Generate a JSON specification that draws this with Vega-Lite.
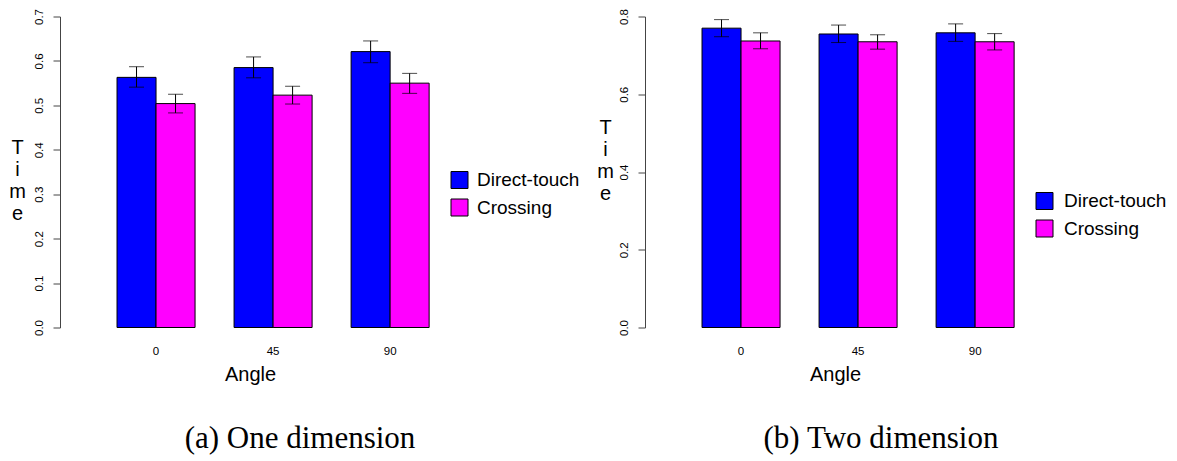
{
  "$schema": "https://vega.github.io/schema/vega-lite/v6.json",
  "background": "white",
  "padding": {"left": 8, "top": 8.5, "right": 0, "bottom": 0},
  "config": {
    "font": "Liberation Sans",
    "view": {"stroke": null},
    "axis": {"grid": false, "labelColor": "black", "titleColor": "black", "domainColor": "#444", "tickColor": "#444"},
    "axisY": {"titleAngle": 0, "titleFontSize": 20, "titleFontWeight": "normal", "titleLineHeight": 22, "titleAlign": "center", "titleBaseline": "middle", "format": ".1f", "labelAngle": -90, "labelFontSize": 11.5, "labelPadding": 9, "tickSize": 7}
  },
  "datasets": {
    "d": [
      {"dim": "one", "angle": "0", "method": "Direct-touch", "mean": 0.563, "lo": 0.541, "hi": 0.587},
      {"dim": "one", "angle": "0", "method": "Crossing", "mean": 0.504, "lo": 0.483, "hi": 0.525},
      {"dim": "one", "angle": "45", "method": "Direct-touch", "mean": 0.585, "lo": 0.562, "hi": 0.609},
      {"dim": "one", "angle": "45", "method": "Crossing", "mean": 0.523, "lo": 0.503, "hi": 0.543},
      {"dim": "one", "angle": "90", "method": "Direct-touch", "mean": 0.621, "lo": 0.596, "hi": 0.645},
      {"dim": "one", "angle": "90", "method": "Crossing", "mean": 0.55, "lo": 0.527, "hi": 0.572},
      {"dim": "two", "angle": "0", "method": "Direct-touch", "mean": 0.77, "lo": 0.748, "hi": 0.792},
      {"dim": "two", "angle": "0", "method": "Crossing", "mean": 0.737, "lo": 0.717, "hi": 0.758},
      {"dim": "two", "angle": "45", "method": "Direct-touch", "mean": 0.755, "lo": 0.733, "hi": 0.778},
      {"dim": "two", "angle": "45", "method": "Crossing", "mean": 0.735, "lo": 0.716, "hi": 0.753},
      {"dim": "two", "angle": "90", "method": "Direct-touch", "mean": 0.758, "lo": 0.736, "hi": 0.781},
      {"dim": "two", "angle": "90", "method": "Crossing", "mean": 0.735, "lo": 0.714, "hi": 0.756}
    ]
  },
  "bounds": "flush",
  "spacing": 205,
  "resolve": {"scale": {"y": "independent"}, "legend": {"color": "independent"}},
  "hconcat": [
    {
      "width": 380,
      "height": 311,
      "title": {"text": "(a) One dimension", "orient": "bottom", "offset": 40, "dx": 50, "font": "Liberation Serif", "fontSize": 31, "fontWeight": "normal", "anchor": "middle", "color": "black"},
      "data": {"name": "d"},
      "transform": [{"filter": "datum.dim === 'one'"}],
      "encoding": {
        "x": {"field": "angle", "type": "nominal", "sort": ["0", "45", "90"],
          "scale": {"paddingInner": 0.3333, "paddingOuter": 0.29, "align": 0.84},
          "axis": {"title": "Angle", "titleFontSize": 20, "titleFontWeight": "normal", "titlePadding": 7, "labelAngle": 0, "labelFontSize": 11.5, "labelPadding": 18, "domain": false, "ticks": false}},
        "xOffset": {"field": "method", "type": "nominal", "sort": ["Direct-touch", "Crossing"], "scale": {"paddingInner": 0, "paddingOuter": 0}}
      },
      "layer": [
        {
          "mark": {"type": "bar", "stroke": "black", "strokeWidth": 1},
          "encoding": {
            "y": {"field": "mean", "type": "quantitative", "scale": {"domain": [0, 0.7]},
              "axis": {"title": ["T", "i", "m", "e"], "titleX": -43, "titleY": 131, "values": [0, 0.1, 0.2, 0.3, 0.4, 0.5, 0.6, 0.7]}},
            "color": {"field": "method", "type": "nominal", "sort": ["Direct-touch", "Crossing"],
              "scale": {"domain": ["Direct-touch", "Crossing"], "range": ["#0000FF", "#FF00FF"]},
              "legend": {"orient": "none", "legendX": 390, "legendY": 154, "title": null, "symbolType": "square", "symbolSize": 289, "labelFontSize": 19, "labelOffset": 8, "rowPadding": 6.5, "symbolStrokeColor": "black", "symbolStrokeWidth": 1, "padding": 0, "labelColor": "black"}}
          }
        },
        {
          "mark": {"type": "rule", "color": "black", "strokeWidth": 1},
          "encoding": {"y": {"field": "lo", "type": "quantitative",
              "axis": {"title": ["T", "i", "m", "e"], "titleX": -43, "titleY": 131, "values": [0, 0.1, 0.2, 0.3, 0.4, 0.5, 0.6, 0.7]}}, "y2": {"field": "hi"}}
        },
        {
          "mark": {"type": "tick", "color": "black", "size": 15, "thickness": 1},
          "encoding": {"y": {"field": "lo", "type": "quantitative",
              "axis": {"title": ["T", "i", "m", "e"], "titleX": -43, "titleY": 131, "values": [0, 0.1, 0.2, 0.3, 0.4, 0.5, 0.6, 0.7]}}}
        },
        {
          "mark": {"type": "tick", "color": "black", "size": 15, "thickness": 1},
          "encoding": {"y": {"field": "hi", "type": "quantitative",
              "axis": {"title": ["T", "i", "m", "e"], "titleX": -43, "titleY": 131, "values": [0, 0.1, 0.2, 0.3, 0.4, 0.5, 0.6, 0.7]}}}
        }
      ]
    },
    {
      "width": 380,
      "height": 311,
      "title": {"text": "(b) Two dimension", "orient": "bottom", "offset": 40, "dx": 46, "font": "Liberation Serif", "fontSize": 31, "fontWeight": "normal", "anchor": "middle", "color": "black"},
      "data": {"name": "d"},
      "transform": [{"filter": "datum.dim === 'two'"}],
      "encoding": {
        "x": {"field": "angle", "type": "nominal", "sort": ["0", "45", "90"],
          "scale": {"paddingInner": 0.3333, "paddingOuter": 0.29, "align": 0.84},
          "axis": {"title": "Angle", "titleFontSize": 20, "titleFontWeight": "normal", "titlePadding": 7, "labelAngle": 0, "labelFontSize": 11.5, "labelPadding": 18, "domain": false, "ticks": false}},
        "xOffset": {"field": "method", "type": "nominal", "sort": ["Direct-touch", "Crossing"], "scale": {"paddingInner": 0, "paddingOuter": 0}}
      },
      "layer": [
        {
          "mark": {"type": "bar", "stroke": "black", "strokeWidth": 1},
          "encoding": {
            "y": {"field": "mean", "type": "quantitative", "scale": {"domain": [0, 0.8]},
              "axis": {"title": ["T", "i", "m", "e"], "titleX": -40, "titleY": 111, "values": [0, 0.2, 0.4, 0.6, 0.8]}},
            "color": {"field": "method", "type": "nominal", "sort": ["Direct-touch", "Crossing"],
              "scale": {"domain": ["Direct-touch", "Crossing"], "range": ["#0000FF", "#FF00FF"]},
              "legend": {"orient": "none", "legendX": 390, "legendY": 175, "title": null, "symbolType": "square", "symbolSize": 289, "labelFontSize": 19, "labelOffset": 10, "rowPadding": 6.5, "symbolStrokeColor": "black", "symbolStrokeWidth": 1, "padding": 0, "labelColor": "black"}}
          }
        },
        {
          "mark": {"type": "rule", "color": "black", "strokeWidth": 1},
          "encoding": {"y": {"field": "lo", "type": "quantitative",
              "axis": {"title": ["T", "i", "m", "e"], "titleX": -40, "titleY": 111, "values": [0, 0.2, 0.4, 0.6, 0.8]}}, "y2": {"field": "hi"}}
        },
        {
          "mark": {"type": "tick", "color": "black", "size": 15, "thickness": 1},
          "encoding": {"y": {"field": "lo", "type": "quantitative",
              "axis": {"title": ["T", "i", "m", "e"], "titleX": -40, "titleY": 111, "values": [0, 0.2, 0.4, 0.6, 0.8]}}}
        },
        {
          "mark": {"type": "tick", "color": "black", "size": 15, "thickness": 1},
          "encoding": {"y": {"field": "hi", "type": "quantitative",
              "axis": {"title": ["T", "i", "m", "e"], "titleX": -40, "titleY": 111, "values": [0, 0.2, 0.4, 0.6, 0.8]}}}
        }
      ]
    }
  ]
}
